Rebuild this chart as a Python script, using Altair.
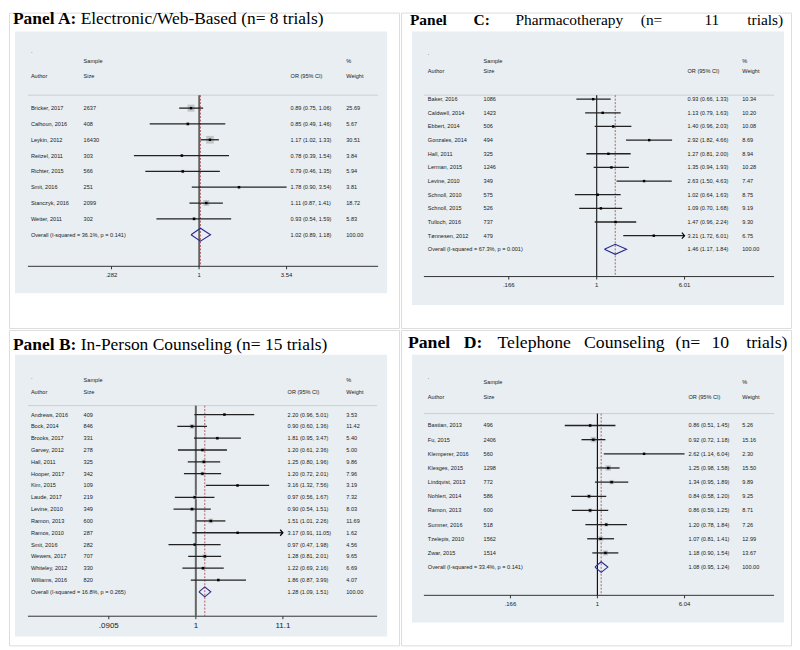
import altair as alt
import pandas as pd

W, H = 392, 317
SANS = "Liberation Sans"
SERIF = "Liberation Serif"

# ---------------- Panel A: Electronic/Web-Based ----------------
a_authors = ["Bricker, 2017", "Calhoun, 2016", "Leykin, 2012", "Reitzel, 2011",
             "Richter, 2015", "Smit, 2016", "Stanczyk, 2016", "Wetter, 2011"]
a_sizes = [2637, 408, 16430, 303, 566, 251, 2099, 302]
a_est = [0.89, 0.85, 1.17, 0.78, 0.79, 1.78, 1.11, 0.93]
a_lo = [0.75, 0.49, 1.02, 0.39, 0.46, 0.90, 0.87, 0.54]
a_hi = [1.06, 1.46, 1.33, 1.54, 1.35, 3.54, 1.41, 1.59]
a_w = [25.69, 5.67, 30.51, 3.84, 5.94, 3.81, 18.72, 5.83]
a_overall = [1.02, 0.89, 1.18]
a_overall_label = "Overall  (I-squared = 36.1%, p = 0.141)"
a_ticks = [0.282, 1, 3.54]
a_tick_labels = [".282", "1", "3.54"]
a_arrows = []

# ---------------- Panel C: Pharmacotherapy ----------------
c_authors = ["Baker, 2016", "Caldwell, 2014", "Ebbert, 2014", "Gonzales, 2014", "Hall, 2011",
             "Lerman, 2015", "Levine, 2010", "Schnoll, 2010", "Schnoll, 2015", "Tulloch, 2016",
             "Tønnesen, 2012"]
c_sizes = [1086, 1423, 506, 494, 325, 1246, 349, 575, 526, 737, 479]
c_est = [0.93, 1.13, 1.40, 2.92, 1.27, 1.35, 2.63, 1.02, 1.09, 1.47, 3.21]
c_lo = [0.66, 0.79, 0.96, 1.82, 0.81, 0.94, 1.50, 0.64, 0.70, 0.96, 1.72]
c_hi = [1.33, 1.63, 2.03, 4.66, 2.00, 1.93, 4.63, 1.63, 1.68, 2.24, 6.01]
c_w = [10.34, 10.20, 10.08, 8.69, 8.94, 10.28, 7.47, 8.75, 9.19, 9.30, 6.75]
c_overall = [1.46, 1.17, 1.84]
c_overall_label = "Overall  (I-squared = 67.3%, p = 0.001)"
c_ticks = [0.166, 1, 6.01]
c_tick_labels = [".166", "1", "6.01"]
c_arrows = [10]

# ---------------- Panel B: In-Person Counseling ----------------
b_authors = ["Andrews, 2016", "Bock, 2014", "Brooks, 2017", "Garvey, 2012", "Hall, 2011",
             "Hooper, 2017", "Kim, 2015", "Laude, 2017", "Levine, 2010", "Ramon, 2013",
             "Ramos, 2010", "Smit, 2016", "Wewers, 2017", "Whiteley, 2012", "Williams, 2016"]
b_sizes = [409, 846, 331, 278, 325, 342, 109, 219, 349, 600, 287, 282, 707, 330, 820]
b_est = [2.20, 0.90, 1.81, 1.20, 1.25, 1.20, 3.16, 0.97, 0.90, 1.51, 3.17, 0.97, 1.28, 1.22, 1.86]
b_lo = [0.96, 0.60, 0.95, 0.61, 0.80, 0.72, 1.32, 0.56, 0.54, 1.01, 0.91, 0.47, 0.81, 0.69, 0.87]
b_hi = [5.01, 1.36, 3.47, 2.36, 1.96, 2.01, 7.56, 1.67, 1.51, 2.26, 11.05, 1.98, 2.01, 2.16, 3.99]
b_w = [3.53, 11.42, 5.40, 5.00, 9.86, 7.96, 3.19, 7.32, 8.03, 11.69, 1.62, 4.56, 9.65, 6.69, 4.07]
b_overall = [1.28, 1.09, 1.51]
b_overall_label = "Overall  (I-squared = 16.8%, p = 0.265)"
b_ticks = [0.0905, 1, 11.05]
b_tick_labels = [".0905", "1", "11.1"]
b_arrows = [10]

# ---------------- Panel D: Telephone Counseling ----------------
d_authors = ["Bastian, 2013", "Fu, 2015", "Klemperer, 2016", "Klesges, 2015", "Lindqvist, 2013",
             "Nohlert, 2014", "Ramon, 2013", "Sumner, 2016", "Tzelepis, 2010", "Zwar, 2015"]
d_sizes = [496, 2406, 560, 1298, 772, 586, 600, 518, 1562, 1514]
d_est = [0.86, 0.92, 2.62, 1.25, 1.34, 0.84, 0.86, 1.20, 1.07, 1.18]
d_lo = [0.51, 0.72, 1.14, 0.98, 0.95, 0.58, 0.59, 0.78, 0.81, 0.90]
d_hi = [1.45, 1.18, 6.04, 1.58, 1.89, 1.20, 1.25, 1.84, 1.41, 1.54]
d_w = [5.26, 15.16, 2.30, 15.50, 9.89, 9.25, 8.71, 7.26, 12.99, 13.67]
d_overall = [1.08, 0.95, 1.24]
d_overall_label = "Overall  (I-squared = 33.4%, p = 0.141)"
d_ticks = [0.166, 1, 6.04]
d_tick_labels = [".166", "1", "6.04"]
d_arrows = []

BG = "#e8eef1"
ONE = pd.DataFrame({"a": [0]})


def txt(s, x, y, size=5.6, font=SANS, bold=False, align="left", baseline="middle", color="#222"):
    return alt.Chart(ONE).mark_text(
        text=s, font=font, fontSize=size, fontWeight="bold" if bold else "normal",
        align=align, baseline=baseline, color=color
    ).encode(x=alt.value(x), y=alt.value(y))


def panel(authors, sizes, est, lo, hi, w, overall, overall_label, ticks, tick_labels, arrows, L):
    ox, oy = L["ox"], L["oy"]

    def X(v):
        return v - ox

    def Y(v):
        return v - oy

    n = len(authors)
    xs = alt.Scale(type="log", domain=[ticks[0], ticks[-1]],
                   range=[X(L["t0"]), X(L["t2"])], nice=False)
    ys = alt.Scale(type="linear", domain=[0, 1],
                   range=[Y(L["r0"]), Y(L["r0"] + L["sp"])], nice=False, zero=False)

    studies = pd.DataFrame({
        "row": list(range(n)), "est": est, "lo": lo, "hi": hi, "w": w,
    })
    table = pd.DataFrame({
        "row": list(range(n + 1)),
        "author": authors + [overall_label],
        "size": [str(s) for s in sizes] + [""],
        "ortxt": [f"{e:.2f} ({l:.2f}, {h:.2f})" for e, l, h in zip(est, lo, hi)]
                 + [f"{overall[0]:.2f} ({overall[1]:.2f}, {overall[2]:.2f})"],
        "wtxt": [f"{v:.2f}" for v in w] + ["100.00"],
    })
    dh = L["dh"] / L["sp"]
    diamond = pd.DataFrame({
        "x": [overall[1], overall[0], overall[2], overall[0], overall[1]],
        "y": [n, n - dh, n, n + dh, n],
        "o": [0, 1, 2, 3, 4],
    })
    tickdf = pd.DataFrame({"t": ticks, "lab": tick_labels})
    one_df = pd.DataFrame({"v": [1.0]})
    ov_df = pd.DataFrame({"v": [overall[0]]})
    arrow_df = studies.iloc[arrows] if arrows else None

    layers = []
    # background
    layers.append(alt.Chart(ONE).mark_rect(fill=BG).encode(
        x=alt.value(X(L["bg"][0])), x2=alt.value(X(L["bg"][2])),
        y=alt.value(Y(L["bg"][1])), y2=alt.value(Y(L["bg"][3]))))
    # headers
    hx = L["cols"]
    hs, hm = L["hdr"]
    layers.append(txt(".", X(hx[0]), Y(L["dot"])))
    layers.append(txt("Sample", X(hx[1]), Y(hs)))
    layers.append(txt("%", X(hx[3]), Y(hs)))
    layers.append(txt("Author", X(hx[0]), Y(hm)))
    layers.append(txt("Size", X(hx[1]), Y(hm)))
    layers.append(txt("OR (95% CI)", X(hx[2]), Y(hm)))
    layers.append(txt("Weight", X(hx[3]), Y(hm)))
    # header separator
    layers.append(alt.Chart(ONE).mark_rule(color="#c9d0d4", strokeWidth=1).encode(
        x=alt.value(X(L["ax"][0])), x2=alt.value(X(L["ax"][1])), y=alt.value(Y(L["hline"]))))
    # axis line
    layers.append(alt.Chart(ONE).mark_rule(color="#333", strokeWidth=1).encode(
        x=alt.value(X(L["ax"][0])), x2=alt.value(X(L["ax"][1])), y=alt.value(Y(L["axy"]))))
    # ticks + labels
    layers.append(alt.Chart(tickdf).mark_rule(color="#333", strokeWidth=1).encode(
        x=alt.X("t:Q", scale=xs, axis=None),
        y=alt.value(Y(L["axy"])), y2=alt.value(Y(L["axy"]) + 3)))
    layers.append(alt.Chart(tickdf).mark_text(font=SANS, fontSize=L["tfs"], color="#222",
                                              baseline="middle", align="center").encode(
        x=alt.X("t:Q", scale=xs, axis=None), y=alt.value(Y(L["tly"])), text="lab:N"))
    # no-effect line and overall line
    layers.append(alt.Chart(one_df).mark_rule(color=L["lc"], strokeWidth=L["lw"]).encode(
        x=alt.X("v:Q", scale=xs, axis=None),
        y=alt.value(Y(L["hline"])), y2=alt.value(Y(L["axy"]))))
    layers.append(alt.Chart(ov_df).mark_rule(color="#b0505a", strokeWidth=0.9,
                                             strokeDash=[2, 1.5]).encode(
        x=alt.X("v:Q", scale=xs, axis=None),
        y=alt.value(Y(L["hline"])), y2=alt.value(Y(L["axy"]))))
    # weight boxes
    if L["box"] > 0:
        layers.append(alt.Chart(studies).mark_square(color="#c3c6c8", opacity=1).encode(
            x=alt.X("est:Q", scale=xs, axis=None),
            y=alt.Y("row:Q", scale=ys, axis=None),
            size=alt.Size("w:Q", scale=alt.Scale(type="linear", domain=[0, 100],
                                                  range=[0, 100 * L["box"]]), legend=None)))
    # CI lines
    layers.append(alt.Chart(studies).mark_rule(color="#222", strokeWidth=1.3).encode(
        x=alt.X("lo:Q", scale=xs, axis=None), x2="hi:Q",
        y=alt.Y("row:Q", scale=ys, axis=None)))
    # point estimates
    layers.append(alt.Chart(studies).mark_point(shape="square", filled=True, color="#000",
                                                size=6, opacity=1).encode(
        x=alt.X("est:Q", scale=xs, axis=None), y=alt.Y("row:Q", scale=ys, axis=None)))
    # arrows for truncated CIs
    if arrow_df is not None:
        layers.append(alt.Chart(arrow_df).mark_point(
            shape="M-0.9,-1L0,0L-0.9,1", filled=False, color="#000", size=36,
            strokeWidth=1.2, opacity=1).encode(
            x=alt.X("hi:Q", scale=xs, axis=None), y=alt.Y("row:Q", scale=ys, axis=None)))
    # overall diamond
    layers.append(alt.Chart(diamond).mark_line(color="#2a2a8c", strokeWidth=1.1).encode(
        x=alt.X("x:Q", scale=xs, axis=None), y=alt.Y("y:Q", scale=ys, axis=None),
        order="o:Q"))
    # table columns
    for field, cx in [("author", hx[0]), ("size", hx[1]), ("ortxt", hx[2]), ("wtxt", hx[3])]:
        layers.append(alt.Chart(table).mark_text(font=SANS, fontSize=5.6, color="#222",
                                                 align="left", baseline="middle").encode(
            x=alt.value(X(cx)), y=alt.Y("row:Q", scale=ys, axis=None), text=f"{field}:N"))
    # title
    for s, tx, bold in L["title"]:
        layers.append(txt(s, X(tx), Y(L["ty"]), size=L["tsz"], font=SERIF, bold=bold,
                          baseline="alphabetic", color="#000"))

    return alt.layer(*layers).properties(width=W, height=H)


LA = dict(ox=8, oy=8, t0=111, t2=287, r0=104, sp=15.9, dh=6.5, bg=(14, 27, 388, 290),
          cols=(30, 83, 291, 347), hdr=(57, 72), dot=47, hline=91, ax=(27, 379), axy=263,
          tly=272, tfs=6, lc="#111", lw=1.1, box=1.96, ty=19.5, tsz=17.5,
          title=[("Panel A:", 12, True), ("Electronic/Web-Based (n= 8 trials)", 80, False)])
LC = dict(ox=400, oy=8, t0=508.3, t2=685, r0=95, sp=13.72, dh=5, bg=(411, 27, 785, 302),
          cols=(427, 483, 688, 743), hdr=(57, 67), dot=49, hline=91, ax=(423, 775), axy=273.3,
          tly=282, tfs=6, lc="#111", lw=1.1, box=0, ty=20, tsz=15.5,
          title=[("Panel", 409, True), ("C:", 473, True), ("Pharmacotherapy", 515, False),
                 ("(n=", 641, False), ("11", 705, False), ("trials)", 748, False)])
LB = dict(ox=8, oy=325, t0=108.3, t2=283.3, r0=410, sp=11.88, dh=5, bg=(14, 350, 388, 633),
          cols=(30, 83, 288, 347), hdr=(375, 387), dot=372, hline=401, ax=(27, 378), axy=612.7,
          tly=623, tfs=8, lc="#666", lw=2, box=3.7, ty=345.5, tsz=17.5,
          title=[("Panel B:", 12, True), ("In-Person Counseling (n= 15 trials)", 80, False)])
LD = dict(ox=400, oy=325, t0=510, t2=685, r0=421, sp=14.23, dh=5.3, bg=(411, 350, 785, 619),
          cols=(427, 483, 689, 743), hdr=(377, 392), dot=372, hline=409, ax=(423, 775), axy=591.7,
          tly=600.7, tfs=6, lc="#111", lw=1.2, box=2.9, ty=343.5, tsz=17.8,
          title=[("Panel", 407, True), ("D:", 463, True), ("Telephone", 497, False),
                 ("Counseling", 584, False), ("(n=", 676, False), ("10", 712, False),
                 ("trials)", 747, False)])

pA = panel(a_authors, a_sizes, a_est, a_lo, a_hi, a_w, a_overall, a_overall_label,
           a_ticks, a_tick_labels, a_arrows, LA)
pC = panel(c_authors, c_sizes, c_est, c_lo, c_hi, c_w, c_overall, c_overall_label,
           c_ticks, c_tick_labels, c_arrows, LC)
pB = panel(b_authors, b_sizes, b_est, b_lo, b_hi, b_w, b_overall, b_overall_label,
           b_ticks, b_tick_labels, b_arrows, LB)
pD = panel(d_authors, d_sizes, d_est, d_lo, d_hi, d_w, d_overall, d_overall_label,
           d_ticks, d_tick_labels, d_arrows, LD)

chart = alt.vconcat(
    alt.hconcat(pA, pC, spacing=0),
    alt.hconcat(pB, pD, spacing=0),
    spacing=0,
).properties(padding=0).configure_view(stroke="#8a8a8a", strokeWidth=1.5).configure(
    background="white")

chart.save("out.html", embed_options={"renderer": "svg", "actions": False})
